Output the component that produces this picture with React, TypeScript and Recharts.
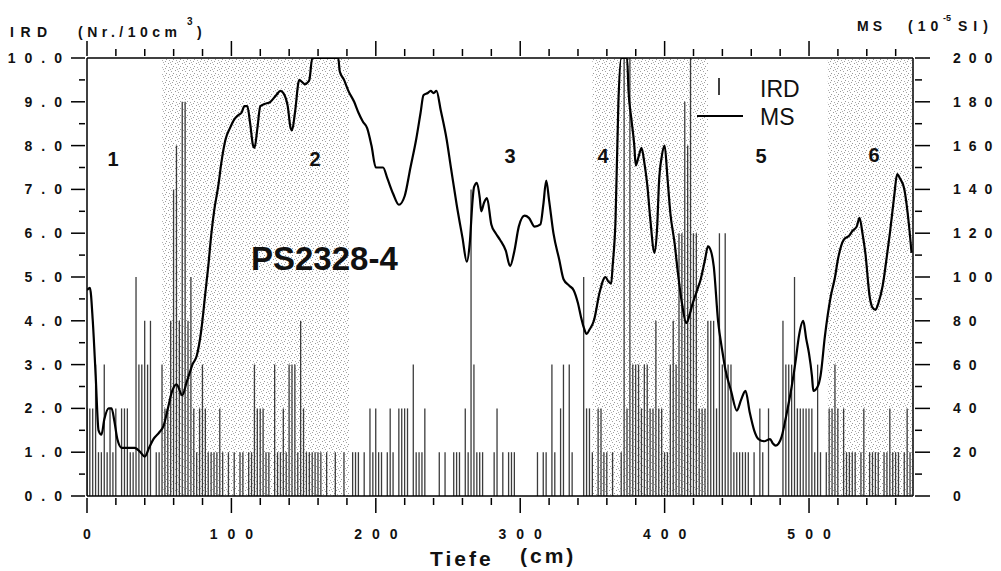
import React from 'react'
import { ComposedChart, Bar, Line, XAxis, YAxis, ReferenceArea } from 'recharts'

// IRD counts (Nr./10cm³), one value every 2 cm of depth
const IRD_STEP = 2
const ird000 = [2, 2, 2, 3, 1, 1, 3, 1, 2, 1, 2, 0, 2, 2, 2, 1, 1, 5, 3, 3, 4, 3, 4, 0, 1, 1, 3, 2, 2, 4, 7, 8, 4, 9, 9, 4, 5, 2, 1, 2, 3, 2, 1, 1, 1, 1, 2, 1, 0, 1]
const ird100 = [0, 1, 0, 1, 1, 0, 1, 1, 3, 2, 2, 2, 1, 1, 0, 3, 1, 1, 2, 1, 3, 3, 3, 1, 4, 2, 1, 1, 1, 1, 1, 1, 0, 1, 0, 0, 1, 0, 0, 1, 0, 0, 1, 1, 1, 0, 1, 0, 2, 1]
const ird200 = [2, 1, 1, 0, 1, 2, 1, 0, 2, 2, 2, 2, 0, 3, 1, 1, 1, 2, 0, 0, 0, 0, 1, 0, 1, 0, 0, 1, 1, 1, 0, 2, 1, 7, 3, 1, 1, 1, 0, 0, 0, 1, 2, 0, 1, 0, 1, 1, 1, 0]
const ird300 = [0, 0, 0, 0, 0, 0, 1, 0, 1, 1, 0, 3, 1, 0, 2, 3, 0, 3, 1, 0, 0, 0, 5, 2, 2, 1, 0, 2, 2, 1, 1, 0, 1, 0, 0, 1, 10, 2, 10, 3, 3, 3, 2, 3, 3, 2, 2, 4, 2, 2]
const ird400 = [1, 1, 3, 4, 3, 6, 6, 9, 8, 10, 6, 6, 2, 2, 2, 4, 4, 4, 2, 6, 3, 6, 3, 3, 1, 1, 1, 1, 1, 1, 0, 1, 0, 2, 1, 0, 2, 0, 0, 0, 0, 4, 3, 3, 3, 5, 2, 2, 2, 2]
const ird500 = [2, 2, 1, 3, 1, 0, 1, 2, 2, 3, 2, 0, 2, 1, 1, 1, 1, 0, 1, 2, 0, 1, 1, 1, 1, 0, 1, 1, 2, 1, 1, 1, 0, 1, 2, 1, 0]

// magnetic susceptibility (10^-5 SI)
const msDepth = [0, 2, 4, 6, 8, 10, 12, 15, 17, 19, 21, 24, 28, 33, 37, 40, 43, 46, 50, 53, 56, 59, 62, 66, 69, 71, 73, 76, 79, 82, 84, 86, 88, 91, 93, 96, 99, 102, 105, 107, 109, 111, 113, 115, 116, 118, 120, 123, 127, 131, 134, 136, 139, 141, 142, 144, 147, 149, 151, 153, 154, 156, 160, 166, 170, 174, 175, 178, 181, 185, 188, 191, 194, 197, 200, 205, 208, 212, 216, 220, 224, 228, 231, 233, 236, 238, 240, 242, 245, 249, 252, 256, 260, 263, 265, 267, 268, 270, 272, 273, 275, 277, 280, 283, 286, 290, 293, 296, 299, 303, 306, 310, 314, 316, 318, 320, 323, 327, 330, 334, 337, 340, 342, 344, 346, 348, 351, 355, 359, 361, 363, 364, 366, 368, 370, 374, 375, 377, 379, 380, 382, 384, 386, 388, 390, 393, 395, 396, 398, 400, 402, 404, 407, 409, 412, 415, 417, 419, 422, 425, 428, 430, 432, 434, 437, 440, 442, 446, 450, 453, 456, 459, 462, 465, 469, 473, 475, 477, 479, 481, 484, 488, 491, 493, 496, 498, 500, 502, 503, 506, 508, 511, 515, 518, 520, 524, 528, 530, 533, 535, 537, 539, 542, 544, 546, 548, 551, 554, 556, 559, 561, 563, 566, 569, 571]
const msValue = [94, 95, 80, 55, 30, 28, 35, 40, 40, 34, 26, 22, 22, 22, 20, 18, 22, 26, 29, 32, 40, 48, 51, 46, 52, 56, 60, 64, 75, 93, 105, 119, 130, 142, 152, 163, 168, 172, 174, 175, 178, 178, 170, 160, 159, 168, 178, 179, 180, 183, 185, 184, 178, 168, 167, 175, 190, 189, 188, 189, 190, 200, 200, 200, 200, 200, 194, 190, 185, 180, 175, 171, 168, 160, 150, 150, 145, 138, 133, 137, 150, 163, 175, 183, 184, 185, 184, 185, 176, 163, 150, 133, 118, 107, 115, 135, 141, 143, 136, 130, 134, 136, 124, 120, 117, 112, 105, 112, 123, 128, 127, 123, 124, 133, 144, 135, 120, 108, 99, 96, 94, 88, 82, 77, 74, 76, 80, 93, 100, 98, 97, 105, 126, 180, 200, 200, 185, 172, 160, 151, 155, 159, 152, 142, 127, 111, 125, 142, 155, 160, 145, 129, 115, 103, 88, 79, 82, 87, 93, 99, 108, 114, 112, 105, 80, 66, 58, 48, 39, 44, 48, 38, 30, 26, 25, 26, 24, 23, 24, 27, 36, 50, 63, 73, 80, 72, 65, 55, 48, 50, 55, 73, 91, 100, 108, 117, 119, 121, 123, 127, 120, 111, 91, 86, 85, 88, 96, 110, 120, 137, 147, 145, 140, 125, 111]

// shaded zones (depth ranges, cm)
const zoneFrom = [52, 350, 513]
const zoneTo = [182, 430, 572]

const depthTicks = [0, 20, 40, 60, 80, 100, 120, 140, 160, 180, 200, 220, 240, 260, 280, 300, 320, 340, 360, 380, 400, 420, 440, 460, 480, 500, 520, 540, 560]
const irdTicks = [0, 0.5, 1, 1.5, 2, 2.5, 3, 3.5, 4, 4.5, 5, 5.5, 6, 6.5, 7, 7.5, 8, 8.5, 9, 9.5, 10]
const msTicks = [0, 10, 20, 30, 40, 50, 60, 70, 80, 90, 100, 110, 120, 130, 140, 150, 160, 170, 180, 190, 200]

const irdValues = [...ird000, ...ird100, ...ird200, ...ird300, ...ird400, ...ird500]

type Row = { depth: number; ird?: number; ms?: number }
const rowMap = new Map<number, Row>()
irdValues.forEach((v, i) => {
  const d = i * IRD_STEP
  rowMap.set(d, { depth: d, ird: v })
})
msDepth.forEach((d, i) => {
  const r = rowMap.get(d) ?? { depth: d }
  r.ms = msValue[i]
  rowMap.set(d, r)
})
const data = [...rowMap.values()].sort((a, b) => a.depth - b.depth)

const FONT = '"Liberation Sans", Arial, Helvetica, sans-serif'
const labelStyle = { fontFamily: FONT, fontWeight: 700, fontSize: 14, fill: '#111' }

function LeftTick(props: any) {
  const { x, y, payload } = props
  const v = payload.value
  const major = Number.isInteger(v)
  return (
    <g>
      <line x1={x - (major ? 14 : 6)} x2={x} y1={y} y2={y} stroke="#000" strokeWidth={1.5} />
      {major && (
        <text x={x - 14} y={y + 5} textAnchor="end" style={{ ...labelStyle, letterSpacing: 9 }}>
          {v.toFixed(1)}
        </text>
      )}
    </g>
  )
}

function RightTick(props: any) {
  const { x, y, payload } = props
  const v = payload.value
  const major = v % 20 === 0
  return (
    <g>
      <line x1={x} x2={x + (major ? 15 : 7)} y1={y} y2={y} stroke="#000" strokeWidth={1.5} />
      {major && (
        <text x={x + 38} y={y + 5} textAnchor="start" style={{ ...labelStyle, letterSpacing: 8 }}>
          {v}
        </text>
      )}
    </g>
  )
}

function BottomTick(props: any) {
  const { x, y, payload } = props
  const v = payload.value
  const major = v % 100 === 0
  return (
    <g>
      <line x1={x} x2={x} y1={y} y2={y + (major ? 15 : 7)} stroke="#000" strokeWidth={1.5} />
      {major && (
        <text x={x + 5} y={y + 41} textAnchor="middle" style={{ ...labelStyle, letterSpacing: 10 }}>
          {v}
        </text>
      )}
    </g>
  )
}

function TopTick(props: any) {
  const { x, y, payload } = props
  const major = payload.value % 100 === 0
  return <line x1={x} x2={x} y1={y - (major ? 15 : 7)} y2={y} stroke="#000" strokeWidth={1.5} />
}

const zoneLabels = [
  { t: '1', x: 113, y: 166 },
  { t: '2', x: 315, y: 166 },
  { t: '3', x: 510, y: 163 },
  { t: '4', x: 603, y: 163 },
  { t: '5', x: 761, y: 163 },
  { t: '6', x: 874, y: 162 },
]

export default function App() {
  return (
    <div style={{ position: 'absolute', left: 0, top: 0, width: 1001, height: 571, background: '#fff' }}>
      <svg width={0} height={0} style={{ position: 'absolute' }}>
        <defs>
          <pattern id="stipple" width={7} height={7} patternUnits="userSpaceOnUse">
            <rect x={0} y={0} width={1} height={1} fill="#999" />
            <rect x={3} y={1} width={1} height={1} fill="#a5a5a5" />
            <rect x={5} y={3} width={1} height={1} fill="#999" />
            <rect x={1} y={4} width={1} height={1} fill="#aaa" />
            <rect x={4} y={5} width={1} height={1} fill="#a0a0a0" />
            <rect x={2} y={6} width={1} height={1} fill="#b0b0b0" />
          </pattern>
        </defs>
      </svg>
      <ComposedChart width={1001} height={571} data={data} margin={{ top: 0, right: 0, bottom: 0, left: 0 }}>
        <XAxis
          xAxisId="top"
          orientation="top"
          type="number"
          dataKey="depth"
          domain={[0, 572]}
          allowDataOverflow
          ticks={depthTicks}
          interval={0}
          height={58}
          tickSize={0}
          tickLine={false}
          axisLine={{ stroke: '#000', strokeWidth: 1.5 }}
          tick={<TopTick />}
        />
        <XAxis
          xAxisId="bottom"
          orientation="bottom"
          type="number"
          dataKey="depth"
          domain={[0, 572]}
          allowDataOverflow
          ticks={depthTicks}
          interval={0}
          height={75}
          tickSize={0}
          tickLine={false}
          axisLine={{ stroke: '#000', strokeWidth: 1.5 }}
          tick={<BottomTick />}
        />
        <YAxis
          yAxisId="ird"
          orientation="left"
          domain={[0, 10]}
          ticks={irdTicks}
          interval={0}
          width={87}
          tickSize={0}
          tickLine={false}
          axisLine={{ stroke: '#000', strokeWidth: 1.5 }}
          tick={<LeftTick />}
        />
        <YAxis
          yAxisId="ms"
          orientation="right"
          domain={[0, 200]}
          allowDataOverflow
          ticks={msTicks}
          interval={0}
          width={88}
          tickSize={0}
          tickLine={false}
          axisLine={{ stroke: '#000', strokeWidth: 1.5 }}
          tick={<RightTick />}
        />
        {zoneFrom.map((f, i) => (
          <ReferenceArea
            key={i}
            xAxisId="bottom"
            yAxisId="ird"
            x1={f}
            x2={zoneTo[i]}
            y1={0}
            y2={10}
            fill="url(#stipple)"
            fillOpacity={1}
            stroke="none"
          />
        ))}
        <Bar xAxisId="bottom" yAxisId="ird" dataKey="ird" barSize={2} fill="#3c3c3c" isAnimationActive={false} />
        <Line
          xAxisId="bottom"
          yAxisId="ms"
          dataKey="ms"
          type="monotone"
          stroke="#000"
          strokeWidth={2.2}
          dot={false}
          connectNulls
          isAnimationActive={false}
        />
      </ComposedChart>
      <svg width={1001} height={571} style={{ position: 'absolute', left: 0, top: 0, pointerEvents: 'none' }}>
        <g style={{ fontFamily: FONT, fontWeight: 700, fill: '#111' }}>
          <text x={10} y={37} fontSize={14} letterSpacing={6.5}>IRD</text>
          <text x={78} y={37} fontSize={14} letterSpacing={4.5}>(Nr./10cm</text>
          <text x={187} y={25} fontSize={10}>3</text>
          <text x={197} y={37} fontSize={14}>)</text>
          <text x={857} y={31} fontSize={14} letterSpacing={4}>MS</text>
          <text x={908} y={31} fontSize={14} letterSpacing={5}>(10</text>
          <text x={943} y={21} fontSize={9}>-5</text>
          <text x={958} y={31} fontSize={14} letterSpacing={6}>SI)</text>
          <text x={430} y={566} fontSize={21} letterSpacing={3}>Tiefe</text>
          <text x={520} y={563} fontSize={21} letterSpacing={3}>(cm)</text>
          {zoneLabels.map((z) => (
            <text key={z.t} x={z.x} y={z.y} fontSize={20} textAnchor="middle">{z.t}</text>
          ))}
          <text x={251} y={270} fontSize={33}>PS2328-4</text>
        </g>
        <line x1={719} x2={719} y1={78} y2={95} stroke="#000" strokeWidth={1.5} />
        <line x1={697} x2={743} y1={116} y2={116} stroke="#000" strokeWidth={2} />
        <text x={760} y={97} fontSize={23} style={{ fontFamily: FONT }} fill="#111">IRD</text>
        <text x={760} y={125} fontSize={23} style={{ fontFamily: FONT }} fill="#111">MS</text>
      </svg>
    </div>
  )
}
